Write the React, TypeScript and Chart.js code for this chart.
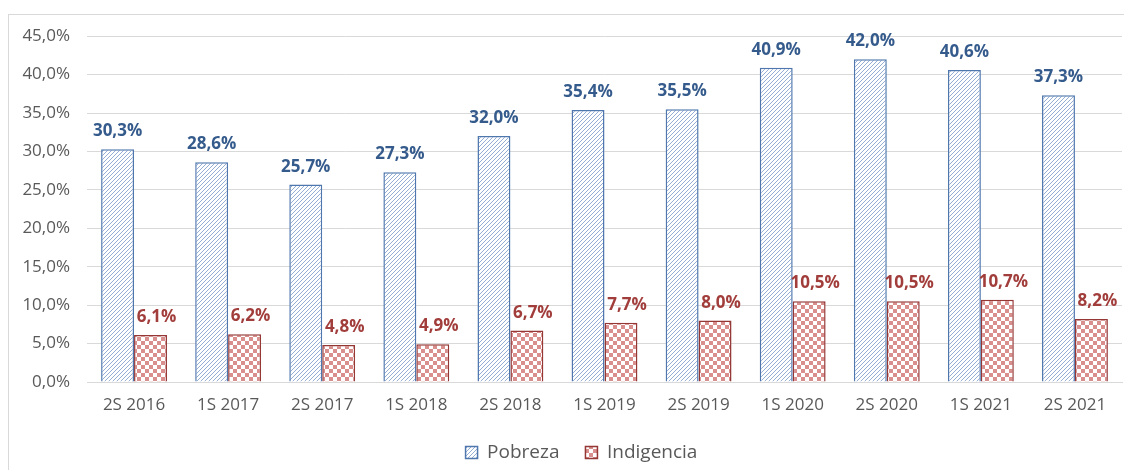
import React, { useEffect, useRef } from "react";
import { Chart, registerables } from "chart.js";

Chart.register(...registerables);

const categories = ["2S 2016", "1S 2017", "2S 2017", "1S 2018", "2S 2018", "1S 2019", "2S 2019", "1S 2020", "2S 2020", "1S 2021", "2S 2021"];
const pobreza = [30.3, 28.6, 25.7, 27.3, 32.0, 35.4, 35.5, 40.9, 42.0, 40.6, 37.3];
const indigencia = [6.1, 6.2, 4.8, 4.9, 6.7, 7.7, 8.0, 10.5, 10.5, 10.7, 8.2];
const seriesNames = ["Pobreza", "Indigencia"];
const yTicksMax = 45;
const yTicksStep = 5;

const FONT = "'Open Sans', 'Noto Sans', sans-serif";

function fmt(v: number) {
  return v.toFixed(1).replace(".", ",") + "%";
}

function makeHatch(): CanvasPattern | string {
  const c = document.createElement("canvas");
  c.width = 4;
  c.height = 4;
  const g = c.getContext("2d")!;
  g.fillStyle = "#ffffff";
  g.fillRect(0, 0, 4, 4);
  g.strokeStyle = "#8aa5cf";
  g.lineWidth = 0.9;
  g.beginPath();
  g.moveTo(-1, 5);
  g.lineTo(5, -1);
  g.moveTo(-1, 1);
  g.lineTo(1, -1);
  g.moveTo(3, 5);
  g.lineTo(5, 3);
  g.stroke();
  const p = g.createPattern(c, "repeat");
  return p || "#9db3d3";
}

function makeChecker(): CanvasPattern | string {
  const c = document.createElement("canvas");
  c.width = 8;
  c.height = 8;
  const g = c.getContext("2d")!;
  g.fillStyle = "#ffffff";
  g.fillRect(0, 0, 8, 8);
  g.fillStyle = "#d88f8d";
  g.fillRect(0, 0, 4, 4);
  g.fillRect(4, 4, 4, 4);
  const p = g.createPattern(c, "repeat");
  return p || "#e0a8a6";
}

const labelColors = ["#355b8c", "#a13d3b"];
const labelOffsets = [0, 6];

const dataLabelPlugin = {
  id: "dataLabels",
  afterLayout(chart: any) {
    if (chart.legend) {
      chart.legend.left += 16;
      chart.legend.right += 16;
    }
  },
  afterDatasetsDraw(chart: any) {
    const ctx = chart.ctx;
    ctx.save();
    ctx.font = `bold 17px ${FONT}`;
    ctx.textAlign = "center";
    ctx.textBaseline = "alphabetic";
    chart.data.datasets.forEach((ds: any, di: number) => {
      const meta = chart.getDatasetMeta(di);
      meta.data.forEach((bar: any, i: number) => {
        ctx.fillStyle = labelColors[di];
        ctx.fillText(fmt(ds.data[i]), bar.x + labelOffsets[di], bar.y - 13);
      });
    });
    ctx.restore();
  },
};

export default function App() {
  const ref = useRef<HTMLCanvasElement | null>(null);
  useEffect(() => {
    if (!ref.current) return;
    const chart = new Chart(ref.current, {
      type: "bar",
      data: {
        labels: categories,
        datasets: [
          {
            label: seriesNames[0],
            data: pobreza,
            backgroundColor: makeHatch() as any,
            borderColor: "#4f77ad",
            borderWidth: 1.5,
            categoryPercentage: 0.7,
            barPercentage: 1,
          },
          {
            label: seriesNames[1],
            data: indigencia,
            backgroundColor: makeChecker() as any,
            borderColor: "#943735",
            borderWidth: 1.5,
            categoryPercentage: 0.7,
            barPercentage: 1,
          },
        ],
      },
      options: {
        animation: false,
        responsive: false,
        maintainAspectRatio: false,
        layout: { padding: { top: 8, right: 10, left: 0, bottom: 4 } },
        plugins: {
          tooltip: { enabled: false },
          legend: {
            position: "bottom",
            labels: {
              font: { family: FONT, size: 19 },
              color: "#595959",
              boxWidth: 12,
              boxHeight: 12,
              padding: 26,
            },
          },
        },
        scales: {
          x: {
            afterFit: (s: any) => {
              s.height = 35;
            },
            grid: { display: false, drawTicks: false },
            border: { display: true, color: "#d9d9d9", width: 1 },
            ticks: { font: { family: FONT, size: 17 }, color: "#595959", padding: 13, maxRotation: 0 },
          },
          y: {
            min: 0,
            max: yTicksMax,
            afterFit: (s: any) => {
              s.width = 78;
            },
            grid: { color: "#d9d9d9", drawTicks: false },
            border: { display: false },
            ticks: {
              stepSize: yTicksStep,
              font: { family: FONT, size: 17 },
              color: "#595959",
              padding: 17,
              callback: (v: any) => fmt(Number(v)),
            },
          },
        },
      },
      plugins: [dataLabelPlugin],
    });
    return () => chart.destroy();
  }, []);

  return (
    <div
      style={{
        marginTop: 6,
        borderLeft: "1px solid #d9d9d9",
        borderTop: "1px solid #d9d9d9",
        width: 1123,
        height: 455,
      }}
    >
      <canvas ref={ref} width={1123} height={467} style={{ display: "block", marginTop: -6 }} />
    </div>
  );
}
